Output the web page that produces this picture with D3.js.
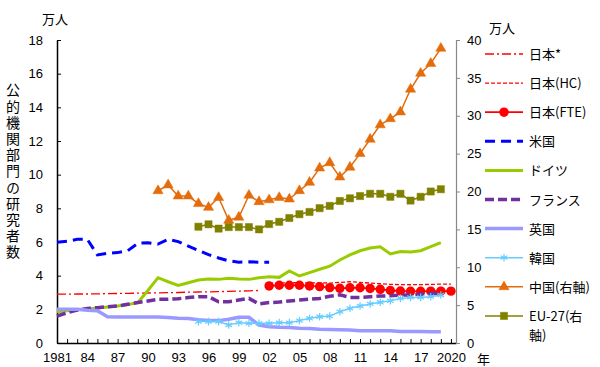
<!DOCTYPE html>
<html>
<head>
<meta charset="utf-8">
<script src="https://cdn.jsdelivr.net/npm/d3@7"></script>
<style>
  body { margin: 0; background: #fff; }
  svg text { font-family: "Liberation Sans", "Noto Sans CJK JP", sans-serif; font-size: 13px; fill: #000; }
  .cjk { font-family: "Noto Sans CJK JP", sans-serif; }
</style>
</head>
<body>
<div id="chart"></div>
<script>
// 公的機関部門の研究者数（万人）
const japanStar = [2.90, 2.90, 2.91, 2.91, 2.92, 2.93, 2.94, 2.95, 2.96, 2.97, 2.98, 2.99, 3.00, 3.02, 3.03, 3.04, 3.05, 3.07, 3.08, 3.10, 3.12]; // 1981-2001
const japanHC = [3.55, 3.57, 3.58, 3.58, 3.57, 3.58, 3.56, 3.60, 3.64, 3.60, 3.56, 3.52, 3.48, 3.47, 3.46, 3.47, 3.48, 3.50, 3.50]; // 2002-2020
const japanFTE = [3.39, 3.43, 3.43, 3.43, 3.39, 3.35, 3.29, 3.25, 3.28, 3.28, 3.24, 3.19, 3.12, 3.09, 3.07, 3.07, 3.08, 3.08, 3.08]; // 2002-2020
const usa = [5.98, 6.04, 6.16, 6.16, 5.23, 5.33, 5.37, 5.48, 5.92, 5.96, 5.88, 6.16, 6.02, 5.75, 5.50, 5.25, 5.05, 4.88, 4.80, 4.82, 4.80, 4.80]; // 1981-2002
const germany = [1.86, 1.92, 1.98, 2.02, 2.08, 2.14, 2.20, 2.28, 2.40, 3.12, 3.88, 3.64, 3.42, 3.58, 3.74, 3.80, 3.78, 3.84, 3.80, 3.78,
  3.88, 3.94, 3.90, 4.28, 3.98, 4.18, 4.38, 4.56, 4.93, 5.23, 5.48, 5.64, 5.72, 5.29, 5.43, 5.41, 5.48, 5.72, 5.96]; // 1981-2019
const france = [1.60, 1.80, 1.95, 2.05, 2.10, 2.15, 2.20, 2.30, 2.40, 2.50, 2.60, 2.60, 2.63, 2.70, 2.75, 2.75, 2.45, 2.45, 2.55, 2.65,
  2.32, 2.40, 2.43, 2.50, 2.55, 2.60, 2.65, 2.78, 2.86, 2.71, 2.71, 2.75, 2.79, 2.80, 2.85, 2.85, 2.90, 2.93, 2.97]; // 1981-2019
const uk = [2.00, 2.00, 2.00, 1.95, 1.92, 1.56, 1.55, 1.55, 1.55, 1.55, 1.55, 1.52, 1.47, 1.45, 1.38, 1.33, 1.33, 1.41, 1.53, 1.53,
  1.07, 0.97, 0.93, 0.92, 0.88, 0.86, 0.82, 0.80, 0.78, 0.77, 0.73, 0.73, 0.73, 0.73, 0.69, 0.68, 0.68, 0.67, 0.67]; // 1981-2019
const korea = [1.27, 1.27, 1.27, 1.07, 1.21, 1.17, 1.17, 1.17, 1.21, 1.21, 1.33, 1.47, 1.56, 1.60, 1.86, 2.06, 2.20, 2.32, 2.42, 2.51,
  2.65, 2.71, 2.71, 2.75, 2.85]; // 1995-2019
// 右軸
const china = [20.1, 20.86, 19.4, 19.4, 18.4, 17.9, 19.2, 16.2, 16.6, 19.5, 18.65, 18.9, 19.2, 19.0, 20.1, 21.2, 23.1, 23.8, 21.9, 23.2,
  25.0, 26.9, 28.8, 29.6, 30.5, 33.5, 35.6, 36.9, 38.9]; // 1991-2019
const eu27 = [15.35, 15.67, 15.1, 15.3, 15.3, 15.3, 15.0, 15.7, 16.0, 16.5, 17.0, 17.3, 17.8, 18.1, 18.75, 19.1, 19.4, 19.7, 19.7, 19.3,
  19.7, 18.8, 19.3, 20.0, 20.3]; // 1995-2019

const xLabels = {1981: "1981", 1984: "84", 1987: "87", 1990: "90", 1993: "93", 1996: "96", 1999: "99", 2002: "02",
  2005: "05", 2008: "08", 2011: "11", 2014: "14", 2017: "17", 2020: "2020"};
const leftTicks = [0, 2, 4, 6, 8, 10, 12, 14, 16, 18];
const rightTicks = [0, 5, 10, 15, 20, 25, 30, 35, 40];

const width = 600, height = 367;
const svg = d3.select("#chart").append("svg").attr("width", width).attr("height", height);

const x = d3.scaleLinear().domain([1981, 2020.5]).range([57, 456]);
const yL = d3.scaleLinear().domain([0, 18]).range([343, 40]);
const yR = d3.scaleLinear().domain([0, 40]).range([343, 40]);

const toPts = (vals, start) => vals.map((v, i) => ({ year: start + i, v }));

const series = [
  { name: "日本*", data: toPts(japanStar, 1981), y: yL, color: "#ff0000", w: 1.3, dash: "9,3,2,3" },
  { name: "日本(HC)", data: toPts(japanHC, 2002), y: yL, color: "#ff0000", w: 1.3, dash: "4,2" },
  { name: "日本(FTE)", data: toPts(japanFTE, 2002), y: yL, color: "#ff0000", w: 1.8, marker: "circle" },
  { name: "米国", data: toPts(usa, 1981), y: yL, color: "#0000ff", w: 3, dash: "10,6" },
  { name: "ドイツ", data: toPts(germany, 1981), y: yL, color: "#99cc00", w: 3 },
  { name: "フランス", data: toPts(france, 1981), y: yL, color: "#7030a0", w: 3.5, dash: "9,4" },
  { name: "英国", data: toPts(uk, 1981), y: yL, color: "#9999ff", w: 3.5 },
  { name: "韓国", data: toPts(korea, 1995), y: yL, color: "#66ccff", w: 1.5, marker: "asterisk" },
  { name: "中国(右軸)", data: toPts(china, 1991), y: yR, color: "#e46c0a", w: 1.5, marker: "triangle" },
  { name: ["EU-27(右", "軸)"], data: toPts(eu27, 1995), y: yR, color: "#808000", w: 1.5, marker: "square" }
];

const symbolOf = {
  circle: d3.symbol(d3.symbolCircle, 70),
  triangle: d3.symbol(d3.symbolTriangle, 45),
  square: d3.symbol(d3.symbolSquare, 52),
  asterisk: d3.symbol(d3.symbolAsterisk, 40)
};

function drawMarker(g, type, color, px, py) {
  const p = g.append("path").attr("d", symbolOf[type]()).attr("transform", `translate(${px},${py})`);
  if (type === "asterisk") p.attr("fill", "none").attr("stroke", color).attr("stroke-width", 1.2);
  else p.attr("fill", color).attr("stroke", type === "circle" ? "none" : color).attr("stroke-width", 0.5);
}

// axes
const xAxis = d3.axisBottom(x).tickValues(d3.range(1981, 2021)).tickSizeInner(-4).tickSizeOuter(0).tickPadding(10)
  .tickFormat(d => xLabels[d] || "");
const gx = svg.append("g").attr("transform", "translate(0,343)").call(xAxis);
gx.select(".domain").attr("stroke", "#000").attr("stroke-width", 1.5);
gx.selectAll(".tick line").attr("stroke", "#000");

const gl = svg.append("g").attr("transform", "translate(57,0)")
  .call(d3.axisLeft(yL).tickValues(leftTicks).tickSizeInner(-4).tickSizeOuter(0).tickPadding(14));
gl.select(".domain").attr("stroke", "#000").attr("stroke-width", 1.5);
gl.selectAll(".tick line").attr("stroke", "#000");

const gr = svg.append("g").attr("transform", "translate(456,0)")
  .call(d3.axisRight(yR).tickValues(rightTicks).tickSizeInner(4).tickSizeOuter(0).tickPadding(7));
gr.select(".domain").attr("stroke", "#888").attr("stroke-width", 1.2);
gr.selectAll(".tick line").attr("stroke", "#888");

svg.selectAll(".tick text").style("font-size", "13px");

// axis titles
svg.append("text").attr("class", "cjk").attr("x", 55).attr("y", 24).attr("text-anchor", "middle").text("万人");
svg.append("text").attr("class", "cjk").attr("x", 502).attr("y", 33).attr("text-anchor", "middle").text("万人");
svg.append("text").attr("class", "cjk").attr("x", 477).attr("y", 364).text("年");
svg.append("text").attr("class", "cjk")
  .attr("x", 13).attr("y", 83)
  .attr("writing-mode", "tb")
  .style("font-size", "14px").style("letter-spacing", "2.2px")
  .text("公的機関部門の研究者数");

// lines
const plot = svg.append("g");
series.forEach(s => {
  const line = d3.line().x(d => x(d.year)).y(d => s.y(d.v));
  plot.append("path").datum(s.data).attr("d", line).attr("fill", "none")
    .attr("stroke", s.color).attr("stroke-width", s.w)
    .attr("stroke-dasharray", s.dash || null);
  if (s.marker) s.data.forEach(d => drawMarker(plot, s.marker, s.color, x(d.year), s.y(d.v)));
});

// legend
const lg = svg.append("g");
series.forEach((s, i) => {
  const ly = 54 + i * 29.1;
  lg.append("line").attr("x1", 485).attr("x2", 523).attr("y1", ly).attr("y2", ly)
    .attr("stroke", s.color).attr("stroke-width", s.w).attr("stroke-dasharray", s.dash || null);
  if (s.marker) drawMarker(lg, s.marker, s.color, 504, ly);
  const names = Array.isArray(s.name) ? s.name : [s.name];
  names.forEach((n, j) => {
    lg.append("text").attr("class", "cjk").attr("x", 529).attr("y", ly + 5 + j * 19).text(n);
  });
});
</script>
</body>
</html>
